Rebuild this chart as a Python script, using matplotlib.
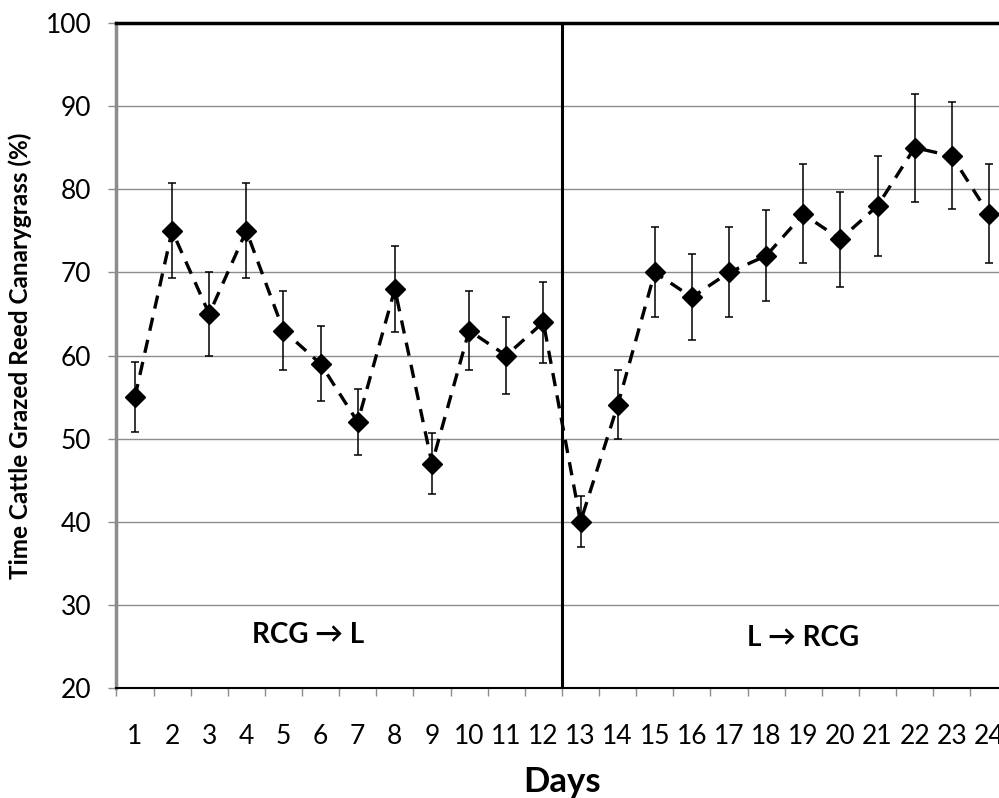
import numpy as np
import matplotlib.pyplot as plt
from matplotlib.ticker import FixedLocator, NullFormatter

plt.rcParams['font.family'] = ['Lato', 'DejaVu Sans']

# days and mean grazing time (%), with error bar upper / lower limits
days = list(range(1, 25))
grazed = [55, 75, 65, 75, 63, 59, 52, 68, 47, 63, 60, 64,
          40, 54, 70, 67, 70, 72, 77, 74, 78, 85, 84, 77]
err_hi = [59.2, 80.8, 70.0, 80.8, 67.8, 63.5, 56.0, 73.2, 50.7, 67.8, 64.6, 68.9,
          43.1, 58.2, 75.4, 72.2, 75.4, 77.5, 83.0, 79.7, 84.0, 91.5, 90.5, 83.0]
err_lo = [50.8, 69.3, 60.0, 69.3, 58.2, 54.5, 48.0, 62.8, 43.4, 58.2, 55.4, 59.1,
          37.0, 49.9, 64.6, 61.9, 64.6, 66.5, 71.1, 68.3, 72.0, 78.5, 77.6, 71.1]
phase_labels = ['RCG \u2192 L', 'L \u2192 RCG']

x = np.array(days)
y = np.array(grazed)
yerr = [y - np.array(err_lo), np.array(err_hi) - y]

fig = plt.figure(figsize=(9.99, 7.98), dpi=100)
ax = fig.add_axes([0.1165, 0.1378, 0.892, 0.8334])

ax.errorbar(x, y, yerr=yerr, fmt='none', ecolor='black', elinewidth=1.1,
            capsize=3, capthick=1.1, zorder=3)
ax.plot(x, y, color='black', linestyle=(0, (4, 2.8)), linewidth=2.4, zorder=2)
ax.plot(x, y, linestyle='none', marker='D', markersize=10, color='black', zorder=4)

# switch between treatments
ax.plot([12.5, 12.5], [20, 100], color='black', linewidth=2.2, zorder=5)

ax.text(5.66, 26.4, phase_labels[0], ha='center', va='center', fontsize=20,
        fontweight='bold')
ax.text(19.0, 26.0, phase_labels[1], ha='center', va='center', fontsize=20,
        fontweight='bold')

ax.set_xlim(0.5, 24.5)
ax.set_ylim(20, 100)
ax.set_yticks(np.arange(20, 101, 10))
ax.yaxis.grid(True, color='#8c8c8c', linewidth=1.0)
ax.set_axisbelow(True)

ax.set_xticks(x)
ax.set_xticklabels([str(d) for d in days])
ax.xaxis.set_minor_locator(FixedLocator(np.arange(0.5, 25, 1)))
ax.xaxis.set_minor_formatter(NullFormatter())
ax.tick_params(axis='x', which='major', length=0, pad=26, labelsize=19)
ax.tick_params(axis='x', which='minor', length=6, width=1, color='#8c8c8c')
ax.tick_params(axis='y', length=6, width=1, color='#8c8c8c', pad=12, labelsize=19)

for side in ['top', 'bottom']:
    ax.spines[side].set_color('black')
ax.spines['top'].set_linewidth(2.5)
ax.spines['bottom'].set_linewidth(1.5)
ax.spines['left'].set_color('#8c8c8c')
ax.spines['left'].set_linewidth(2.5)
ax.spines['right'].set_visible(False)

ax.set_ylabel('Time Cattle Grazed Reed Canarygrass (%)', fontsize=17.5,
              fontweight='bold', labelpad=10)
ax.set_xlabel('Days', fontsize=25, fontweight='bold', labelpad=12)

fig.savefig('out.png', dpi=100)
